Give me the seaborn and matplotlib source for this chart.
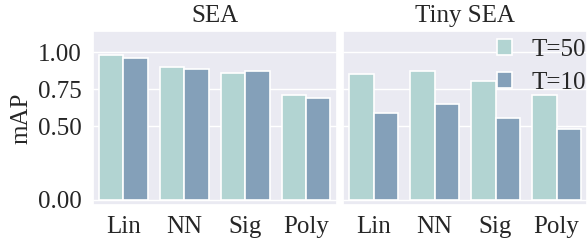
import matplotlib
matplotlib.use("Agg")
import matplotlib.pyplot as plt
import seaborn as sns
import pandas as pd

methods = ["Lin", "NN", "Sig", "Poly"]
datasets = ["SEA", "Tiny SEA"]
hue_labels = ["T=50", "T=10"]
sea_t50 = [0.982, 0.903, 0.862, 0.711]
sea_t10 = [0.961, 0.889, 0.873, 0.693]
tiny_t50 = [0.851, 0.873, 0.804, 0.711]
tiny_t10 = [0.591, 0.652, 0.553, 0.483]
yticks = [0.0, 0.5, 0.75, 1.0]
colors = ["#b2d4d2", "#84a0b9"]

rows = []
for ds, v50, v10 in [("SEA", sea_t50, sea_t10), ("Tiny SEA", tiny_t50, tiny_t10)]:
    for m, a, b in zip(methods, v50, v10):
        rows.append({"dataset": ds, "method": m, "T": "T=50", "mAP": a})
        rows.append({"dataset": ds, "method": m, "T": "T=10", "mAP": b})
df = pd.DataFrame(rows)

sns.set_theme(style="darkgrid")
plt.rcParams["font.family"] = ["serif"]
plt.rcParams["font.serif"] = ["Liberation Serif", "DejaVu Serif"]

fig, axes = plt.subplots(1, 2, figsize=(5.87, 2.41), dpi=100, sharey=True)
fig.subplots_adjust(left=0.158, right=1.0, top=0.873, bottom=0.149, wspace=0.027)

for ax, ds in zip(axes, datasets):
    sub = df[df["dataset"] == ds]
    sns.barplot(data=sub, x="method", y="mAP", hue="T", hue_order=hue_labels,
                order=methods, palette=colors, saturation=1, ax=ax,
                edgecolor="white", linewidth=1.2, legend=(ds == "Tiny SEA"))
    ax.set_title(ds, fontsize=18, pad=6)
    ax.set_xlabel("")
    ax.tick_params(axis="both", labelsize=18, pad=2)
    ax.set_ylim(-0.037, 1.148)
    ax.set_yticks(yticks)
    ax.set_yticklabels([f"{t:.2f}" for t in yticks])

axes[0].set_ylabel("mAP", fontsize=18, labelpad=4)
axes[1].set_ylabel("")
axes[1].tick_params(axis="y", left=False)

leg = axes[1].get_legend()
handles = leg.legend_handles
leg.remove()
axes[1].legend(handles, hue_labels, loc="upper right", frameon=False, fontsize=18,
               handlelength=0.6, handleheight=0.6, handletextpad=0.75,
               labelspacing=0.45, borderaxespad=0.0, bbox_to_anchor=(1.035, 1.01))

fig.savefig("out.png", dpi=100)
